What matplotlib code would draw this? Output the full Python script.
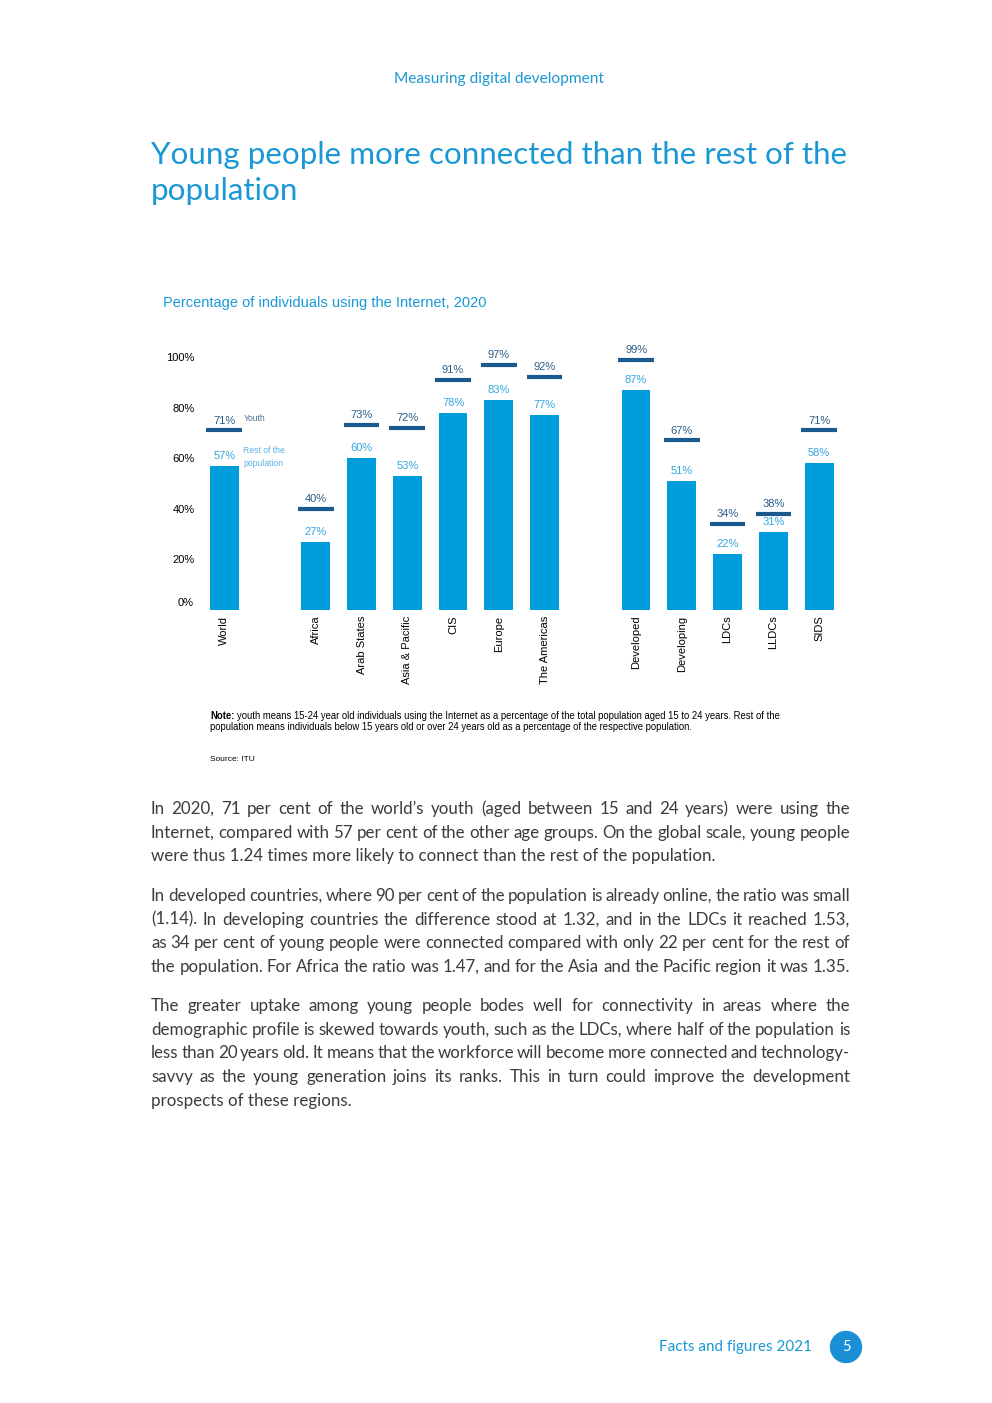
#!/usr/bin/env python3
"""Youth vs rest of population Internet use, 2020 - page recreation."""

import matplotlib

matplotlib.use("Agg")
import matplotlib.pyplot as plt  # type: ignore
from matplotlib.patches import Ellipse

W, H = 992, 1403

# ---- data -------------------------------------------------------------
groups = [
    ["World"],
    ["Africa", "Arab States", "Asia & Pacific", "CIS", "Europe", "The Americas"],
    ["Developed", "Developing", "LDCs", "LLDCs", "SIDS"],
]
youth = [71, 40, 73, 72, 91, 97, 92, 99, 67, 34, 38, 71]
rest = [57, 27, 60, 53, 78, 83, 77, 87, 51, 22, 31, 58]
yticks = [0, 20, 40, 60, 80, 100]

paragraphs = [
    [
        "In 2020, 71 per cent of the world\u2019s youth (aged between 15 and 24 years) were using the",
        "Internet, compared with 57 per cent of the other age groups. On the global scale, young people",
        "were thus 1.24 times more likely to connect than the rest of the population.",
    ],
    [
        "In developed countries, where 90 per cent of the population is already online, the ratio was small",
        "(1.14). In developing countries the difference stood at 1.32, and in the LDCs it reached 1.53,",
        "as 34 per cent of young people were connected compared with only 22 per cent for the rest of",
        "the population. For Africa the ratio was 1.47, and for the Asia and the Pacific region it was 1.35.",
    ],
    [
        "The greater uptake among young people bodes well for connectivity in areas where the",
        "demographic profile is skewed towards youth, such as the LDCs, where half of the population is",
        "less than 20 years old. It means that the workforce will become more connected and technology-",
        "savvy as the young generation joins its ranks. This in turn could improve the development",
        "prospects of these regions.",
    ],
]

# ---- colours ----------------------------------------------------------
BAR = "#009ddc"
YOUTH = "#1b5a8e"
YOUTH_TXT = "#2b5c88"
REST_TXT = "#33a6df"
TITLE = "#1a98d5"
BODY = "#3c3c3c"

fig = plt.figure(figsize=(W / 100, H / 100), dpi=100)
renderer = fig.canvas.get_renderer()


def fx(px):
    return px / W


def fy(py):
    return 1 - py / H


def text_width(s, **kw):
    t = fig.text(0, 0, s, **kw)
    wd = t.get_window_extent(renderer).width
    t.remove()
    return wd


# header + title
fig.text(fx(499), fy(79), "Measuring digital development", ha="center", va="center",
         color=TITLE, fontsize=11.2, family="Lato")
fig.text(fx(151), fy(155), "Young people more connected than the rest of the", ha="left",
         va="center", color=TITLE, fontsize=22.6, family="Lato")
fig.text(fx(151), fy(191), "population", ha="left", va="center", color=TITLE,
         fontsize=22.6, family="Lato")
fig.text(fx(163), fy(303), "Percentage of individuals using the Internet, 2020", ha="left",
         va="center", color=TITLE, fontsize=10.5, family="Liberation Sans")

# ---- chart ------------------------------------------------------------
cats, xpos = [], []
x = 0
for g in groups:
    for c in g:
        cats.append(c)
        xpos.append(x)
        x += 1
    x += 1

left, right, top, bottom = 200, 842, 330, 610
ax = fig.add_axes([fx(left), fy(bottom), fx(right - left), (bottom - top) / H])
ax.bar(xpos, rest, width=0.63, color=BAR, zorder=2)
ax.hlines(youth, [p - 0.39 for p in xpos], [p + 0.39 for p in xpos], color=YOUTH, lw=3, zorder=3)

for p, yv, rv in zip(xpos, youth, rest):
    ax.annotate(f"{yv}%", (p, yv), xytext=(0, 3.5), textcoords="offset points", ha="center",
                va="bottom", color=YOUTH_TXT, fontsize=8, family="Liberation Sans")
    ax.annotate(f"{rv}%", (p, rv), xytext=(0, 3.5), textcoords="offset points", ha="center",
                va="bottom", color=REST_TXT, fontsize=8, family="Liberation Sans")

ax.text(0.42, youth[0] + 4.5, "Youth", color="#4f7397", fontsize=6.2, va="center",
        family="Liberation Sans")
ax.text(0.42, rest[0] + 3.5, "Rest of the\npopulation", color="#5ab3e2", fontsize=6.2,
        va="center", family="Liberation Sans", linespacing=1.6)

ax.set_xlim(-0.53, 13.5)
ax.set_ylim(0, (bottom - top) / 2.53)
ax.set_yticks(yticks)
# the 0% label sits a little above the baseline in the original
ax.set_yticklabels(["" if t == 0 else f"{t}%" for t in yticks], family="Liberation Sans",
                   fontsize=8)
ax.annotate("0%", (0, 0), xycoords=("axes fraction", "data"), xytext=(-4.3, 5),
            textcoords="offset points", ha="right", va="center", fontsize=8,
            family="Liberation Sans")
ax.set_xticks(xpos)
ax.set_xticklabels(cats, rotation=90, family="Liberation Sans", fontsize=8)
ax.tick_params(length=0, pad=4)
for s in ax.spines.values():
    s.set_visible(False)

# note + source
note_kw = dict(fontsize=6.85, family="Liberation Sans", va="center")
fig.text(fx(210), fy(716), "Note:", weight="bold", **note_kw)
nw = text_width("Note: ", weight="bold", **note_kw)
fig.text(fx(210 + nw), fy(716),
         "youth means 15-24 year old individuals using the Internet as a percentage of the total "
         "population aged 15 to 24 years. Rest of the", **note_kw)
fig.text(fx(210), fy(727),
         "population means individuals below 15 years old or over 24 years old as a percentage "
         "of the respective population.", **note_kw)
fig.text(fx(210), fy(759), "Source: ITU", fontsize=6, family="Liberation Sans", va="center")

# ---- body text, justified ---------------------------------------------
body_kw = dict(fontsize=12.15, family="Lato", color=BODY, va="baseline")


def justified(lines, x0, x1, baselines):
    for i, (line, yb) in enumerate(zip(lines, baselines)):
        words = line.split(" ")
        widths = [text_width(w, **body_kw) for w in words]
        natural = text_width(line, **body_kw)
        # last line stays ragged unless it already fills the column
        if i == len(lines) - 1 and natural < 0.97 * (x1 - x0):
            fig.text(fx(x0), fy(yb), line, **body_kw)
            continue
        gap = (x1 - x0 - sum(widths)) / (len(words) - 1)
        xx = x0
        for w, wd in zip(words, widths):
            fig.text(fx(xx), fy(yb), w, **body_kw)
            xx += wd + gap


starts = [814, 901, 1011]
for para, y0 in zip(paragraphs, starts):
    justified(para, 151, 850, [y0 + i * 23.7 for i in range(len(para))])

# footer
fig.text(fx(812), fy(1347), "Facts and figures 2021", ha="right", va="center", color=TITLE,
         fontsize=10.9, family="Lato")
fig.patches.append(Ellipse((fx(846), fy(1347)), 31 / W, 31 / H, transform=fig.transFigure,
                           color="#1a8fd6", zorder=1))
fig.text(fx(846), fy(1347), "5", ha="center", va="center", color="white", fontsize=10.5,
         family="Lato", zorder=2)

fig.savefig("out.png", dpi=100)
